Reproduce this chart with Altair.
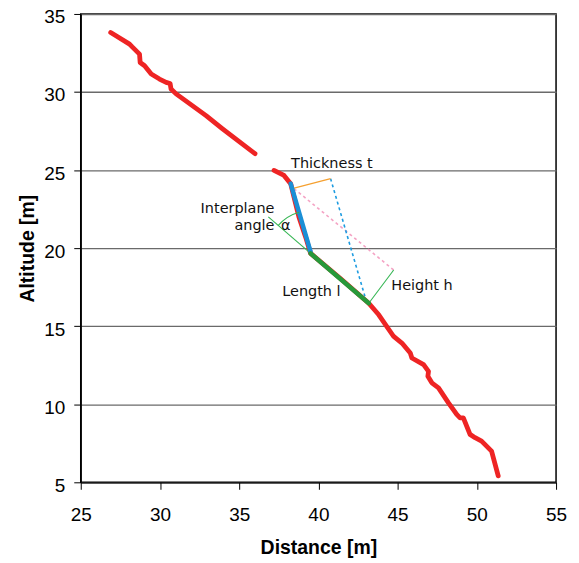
import altair as alt
import pandas as pd

# Profile of the slope (two pieces)
upper_x = [26.89, 28.08, 28.25, 28.71, 28.75, 29.03, 29.45, 29.97, 30.39, 30.64, 30.70, 31.02, 32.91, 33.93, 36.00]
upper_y = [33.81, 33.07, 32.89, 32.43, 31.89, 31.68, 31.15, 30.83, 30.62, 30.55, 30.19, 29.88, 28.49, 27.66, 26.05]
lower_x = [37.20, 37.83, 38.25, 38.77, 39.19, 39.51, 41.50, 43.18, 43.81, 44.75, 45.27, 45.80, 45.90, 46.64, 46.95,
           46.91, 47.16, 47.58, 48.21, 48.73, 48.94, 49.15, 49.57, 49.89, 50.30, 50.93, 51.35]
lower_y = [24.98, 24.66, 24.13, 22.00, 20.72, 19.66, 17.96, 16.47, 15.73, 14.34, 13.92, 13.28, 12.96, 12.54, 12.11,
           11.79, 11.37, 11.05, 10.09, 9.35, 9.13, 9.13, 8.07, 7.86, 7.64, 7.00, 5.41]

# Annotation segments: name, x1, y1, x2, y2
seg_names = ["blue_thick", "green_thick", "orange", "blue_dot", "pink_dot", "green_h", "green_a"]
seg_x1 = [38.25, 39.51, 38.35, 40.77, 38.46, 43.18, 36.84]
seg_y1 = [24.13, 19.66, 23.81, 24.45, 23.81, 16.47, 22.00]
seg_x2 = [39.51, 43.18, 40.77, 42.97, 44.75, 44.75, 39.51]
seg_y2 = [19.76, 16.47, 24.45, 16.79, 18.60, 18.60, 19.66]

# Labels
lab_text = ["Thickness t", "Interplane", "angle", "Length l", "Height h", "α"]
lab_x = [40.85, 37.23, 37.23, 39.56, 44.60, 37.94]
lab_y = [25.42, 22.49, 21.41, 17.21, 17.58, 21.41]
lab_align = ["center", "right", "right", "center", "left", "center"]

vertex_x = [39.51]
vertex_y = [19.66]

xs = alt.Scale(domain=[25, 55], nice=False)
ys = alt.Scale(domain=[5, 35], nice=False)

prof = pd.DataFrame({
    "x": upper_x + lower_x,
    "y": upper_y + lower_y,
    "part": ["a"] * len(upper_x) + ["b"] * len(lower_x),
    "i": list(range(len(upper_x))) + list(range(len(lower_x))),
})

base_x = alt.X("x:Q", scale=xs, title="Distance [m]",
               axis=alt.Axis(values=[25, 30, 35, 40, 45, 50, 55], grid=False, titlePadding=14,
                             labelPadding=16, labelFlush=False))
base_y = alt.Y("y:Q", scale=ys, title="Altitude [m]",
               axis=alt.Axis(values=[5, 10, 15, 20, 25, 30, 35], grid=True, titlePadding=6,
                             labelPadding=9, labelFlush=False, labelOffset=3))

profile = alt.Chart(prof).mark_line(color="#ee2424", strokeWidth=4.8, strokeCap="round", strokeJoin="round").encode(
    x=base_x, y=base_y, detail="part:N", order="i:Q")

segs = pd.DataFrame({"name": seg_names, "x": seg_x1, "y": seg_y1, "x2": seg_x2, "y2": seg_y2})

styles = {
    "pink_dot": dict(color="#f4a3c4", strokeWidth=1.6, strokeDash=[3, 3]),
    "blue_dot": dict(color="#1c9be0", strokeWidth=1.6, strokeDash=[3, 3]),
    "orange": dict(color="#f5a030", strokeWidth=1.3),
    "green_h": dict(color="#34b552", strokeWidth=1.1),
    "green_a": dict(color="#34b552", strokeWidth=1.1),
    "blue_thick": dict(color="#1b8fd6", strokeWidth=4.5, strokeCap="round"),
    "green_thick": dict(color="#27993a", strokeWidth=4.5, strokeCap="round"),
}

layers = [profile]
for nm in ["pink_dot", "blue_dot", "orange", "green_h", "green_a", "blue_thick", "green_thick"]:
    layers.append(
        alt.Chart(segs).transform_filter(alt.datum.name == nm).mark_rule(**styles[nm]).encode(
            x=alt.X("x:Q", scale=xs), y=alt.Y("y:Q", scale=ys), x2="x2:Q", y2="y2:Q")
    )

arc = alt.Chart(pd.DataFrame({"x": vertex_x, "y": vertex_y})).mark_arc(
    theta=5.42, theta2=6.01, radius=43, radius2=43, filled=False, stroke="#34b552", strokeWidth=1.1
).encode(x=alt.X("x:Q", scale=xs), y=alt.Y("y:Q", scale=ys))
layers.append(arc)

labs = pd.DataFrame({"t": lab_text, "x": lab_x, "y": lab_y, "a": lab_align})
for al in ["center", "right", "left"]:
    layers.append(
        alt.Chart(labs).transform_filter(alt.datum.a == al).mark_text(
            font="DejaVu Sans", fontSize=14.5, color="#111", align=al, baseline="middle"
        ).encode(x=alt.X("x:Q", scale=xs), y=alt.Y("y:Q", scale=ys), text="t:N")
    )

chart = alt.layer(*layers).properties(
    width=477, height=470,
    autosize=alt.AutoSizeParams(type="none"),
    padding={"left": 73, "top": 5, "right": 15, "bottom": 80},
).configure_view(stroke="black", strokeWidth=1.5).configure_axis(
    labelFont="Liberation Sans", labelFontSize=19, labelColor="black",
    titleFont="Liberation Sans", titleFontSize=19.5, titleFontWeight="bold", titleColor="black",
    domainColor="black", domainWidth=1.2, tickColor="black", tickSize=7,
    gridColor="#6a6a6a", gridWidth=1.4, gridOpacity=1,
)

chart.save("out.html", embed_options={"renderer": "svg", "actions": False})
